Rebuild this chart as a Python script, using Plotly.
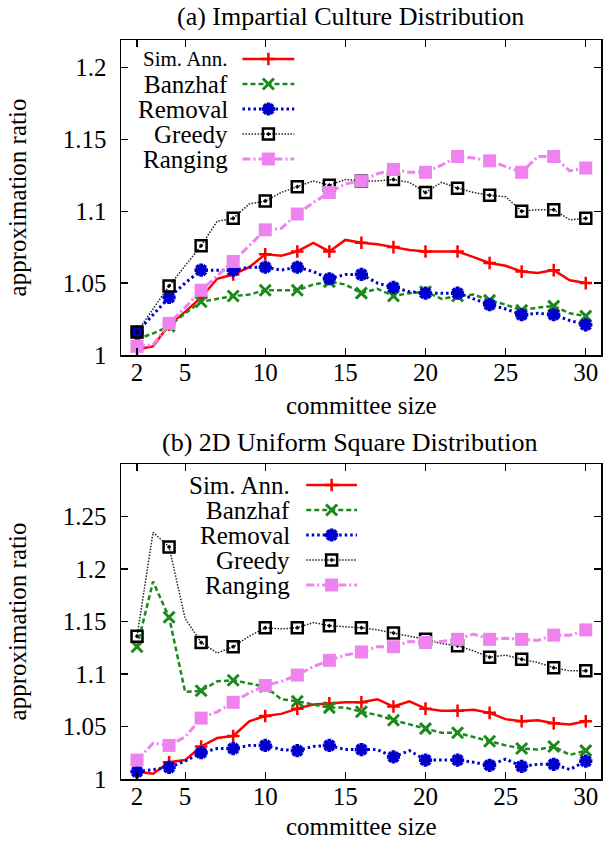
import plotly.graph_objects as go

# ---------------- data ----------------
committee_size = [2, 3, 4, 5, 6, 7, 8, 9, 10, 11, 12, 13, 14, 15, 16,
                  17, 18, 19, 20, 21, 22, 23, 24, 25, 26, 27, 28, 29, 30]

# (a) Impartial Culture
ic_sim_ann = [1.004, 1.006, 1.021, 1.030, 1.040, 1.053, 1.056, 1.061, 1.070, 1.069, 1.072, 1.078, 1.072, 1.080, 1.078,
              1.077, 1.075, 1.073, 1.072, 1.072, 1.072, 1.068, 1.064, 1.062, 1.058, 1.057, 1.059, 1.052, 1.050]
ic_banzhaf = [1.011, 1.015, 1.020, 1.029, 1.037, 1.039, 1.041, 1.042, 1.045, 1.045, 1.045, 1.049, 1.051, 1.049, 1.043,
              1.046, 1.041, 1.043, 1.044, 1.039, 1.041, 1.042, 1.038, 1.035, 1.031, 1.033, 1.034, 1.029, 1.027]
ic_removal = [1.016, 1.028, 1.040, 1.050, 1.059, 1.059, 1.059, 1.061, 1.061, 1.059, 1.061, 1.058, 1.053, 1.056, 1.056,
              1.050, 1.047, 1.044, 1.043, 1.043, 1.043, 1.039, 1.035, 1.032, 1.028, 1.029, 1.028, 1.024, 1.021]
ic_greedy = [1.016, 1.032, 1.048, 1.062, 1.076, 1.093, 1.095, 1.105, 1.107, 1.113, 1.117, 1.121, 1.118, 1.122, 1.121,
             1.121, 1.122, 1.120, 1.113, 1.120, 1.116, 1.113, 1.111, 1.110, 1.100, 1.101, 1.101, 1.094, 1.095]
ic_ranging = [1.006, 1.007, 1.022, 1.033, 1.045, 1.055, 1.065, 1.076, 1.087, 1.088, 1.098, 1.106, 1.113, 1.119, 1.121,
              1.126, 1.129, 1.127, 1.127, 1.132, 1.138, 1.137, 1.135, 1.131, 1.127, 1.138, 1.138, 1.128, 1.130]

# (b) 2D Uniform Square
sq_sim_ann = [1.007, 1.005, 1.016, 1.018, 1.031, 1.039, 1.041, 1.055, 1.060, 1.062, 1.067, 1.071, 1.072, 1.073, 1.073,
              1.076, 1.069, 1.074, 1.067, 1.065, 1.065, 1.066, 1.063, 1.057, 1.055, 1.056, 1.053, 1.052, 1.055]
sq_banzhaf = [1.126, 1.188, 1.154, 1.083, 1.084, 1.093, 1.094, 1.091, 1.088, 1.076, 1.074, 1.071, 1.068, 1.068, 1.064,
              1.061, 1.056, 1.052, 1.048, 1.044, 1.044, 1.040, 1.036, 1.032, 1.029, 1.028, 1.031, 1.023, 1.027]
sq_removal = [1.007, 1.009, 1.011, 1.017, 1.025, 1.029, 1.029, 1.032, 1.032, 1.028, 1.027, 1.031, 1.032, 1.028, 1.028,
              1.028, 1.021, 1.027, 1.018, 1.018, 1.018, 1.016, 1.013, 1.019, 1.012, 1.014, 1.014, 1.009, 1.017]
sq_greedy = [1.136, 1.235, 1.221, 1.153, 1.130, 1.120, 1.126, 1.136, 1.144, 1.143, 1.144, 1.149, 1.146, 1.145, 1.144,
             1.142, 1.139, 1.136, 1.133, 1.129, 1.127, 1.122, 1.116, 1.118, 1.114, 1.111, 1.106, 1.103, 1.103]
sq_ranging = [1.018, 1.034, 1.032, 1.040, 1.058, 1.064, 1.073, 1.082, 1.089, 1.093, 1.099, 1.107, 1.113, 1.118, 1.121,
              1.126, 1.126, 1.131, 1.130, 1.131, 1.133, 1.138, 1.133, 1.134, 1.133, 1.132, 1.137, 1.137, 1.142]

series_names = ["Sim. Ann.", "Banzhaf", "Removal", "Greedy", "Ranging"]
x_tick_vals = [2, 5, 10, 15, 20, 25, 30]
top_y_ticks = [1, 1.05, 1.1, 1.15, 1.2]
top_y_text = ["1", "1.05", "1.1", "1.15", "1.2"]
bot_y_ticks = [1, 1.05, 1.1, 1.15, 1.2, 1.25]
bot_y_text = ["1", "1.05", "1.1", "1.15", "1.2", "1.25"]

# ---------------- styles ----------------
FONT = "Liberation Serif"
FS = 25
styles = {
    "Sim. Ann.": dict(line=dict(color="#ff0000", width=2.5, dash="solid"),
                      marker=dict(symbol="cross-thin", size=9, color="#ff0000",
                                  line=dict(color="#ff0000", width=2.5))),
    "Banzhaf": dict(line=dict(color="#1a8a1a", width=2.5, dash="5px,3px"),
                    marker=dict(symbol="x-thin", size=11, color="#1a8a1a",
                                line=dict(color="#1a8a1a", width=3))),
    "Removal": dict(line=dict(color="#0000cc", width=3, dash="2.5px,3px"),
                    marker=dict(symbol="asterisk", size=11, color="#0000cc",
                                line=dict(color="#0000cc", width=3.8))),
    "Greedy": dict(line=dict(color="#222222", width=1.5, dash="1.5px,1.5px"),
                   marker=dict(symbol="square-open-dot", size=11, color="#000000",
                               line=dict(color="#000000", width=2.5))),
    "Ranging": dict(line=dict(color="#ee82ee", width=3, dash="8px,3px,2px,3px"),
                    marker=dict(symbol="square", size=13, color="#ee82ee",
                                line=dict(color="#ee82ee", width=0))),
}

W, H = 603, 842
L, R, T, B = 121, 0, 40, 63
PW = W - L - R
PH = H - T - B
TOP_PIX = (40, 355)
BOT_PIX = (464, 779)
X_RANGE = [1, 30.95]


def fx(xp):
    return (xp - L) / PW


def fy(yp):
    return (H - B - yp) / PH


fig = go.Figure()

panels = [
    ("x", "y", [ic_sim_ann, ic_banzhaf, ic_removal, ic_greedy, ic_ranging]),
    ("x2", "y2", [sq_sim_ann, sq_banzhaf, sq_removal, sq_greedy, sq_ranging]),
]
marker_opacity = [1 if c % 2 == 0 else 0 for c in committee_size]
for xa, ya, data in panels:
    for name, vals in zip(series_names, data):
        st = styles[name]
        mk = dict(st["marker"])
        mk["opacity"] = marker_opacity
        fig.add_trace(go.Scatter(x=committee_size, y=vals, xaxis=xa, yaxis=ya,
                                 mode="lines+markers", name=name,
                                 line=st["line"], marker=mk, showlegend=False,
                                 hoverinfo="skip"))

# ---------------- custom legends (text left of sample) ----------------
legend_cfg = [
    ("x3", "y3", 230, 243, 295, [59, 84, 109, 134, 159], [21, FS, FS, FS, FS]),
    ("x4", "y4", 293, 307, 358, [485, 510, 535, 560, 585], [FS, FS, FS, FS, FS]),
]
annotations = []
for xa, ya, tx, x0, x1, rows, fss in legend_cfg:
    for name, yr, fsz in zip(series_names, rows, fss):
        st = styles[name]
        mk = dict(st["marker"])
        mk["opacity"] = [0, 1, 0]
        fig.add_trace(go.Scatter(x=[x0, (x0 + x1) / 2, x1], y=[yr, yr, yr], xaxis=xa, yaxis=ya,
                                 mode="lines+markers", line=st["line"], marker=mk,
                                 showlegend=False, hoverinfo="skip"))
        annotations.append(dict(xref=xa, yref=ya, x=tx, y=yr, text=name, showarrow=False,
                                xanchor="right", yanchor="middle",
                                font=dict(family=FONT, size=fsz, color="black")))

# titles
annotations += [
    dict(xref="paper", yref="paper", x=fx(351), y=fy(16), text="(a) Impartial Culture Distribution",
         showarrow=False, xanchor="center", yanchor="middle", font=dict(family=FONT, size=26, color="black")),
    dict(xref="paper", yref="paper", x=fx(351), y=fy(442), text="(b) 2D Uniform Square Distribution",
         showarrow=False, xanchor="center", yanchor="middle", font=dict(family=FONT, size=26, color="black")),
    dict(xref="paper", yref="paper", x=fx(362), y=fy(405), text="committee size",
         showarrow=False, xanchor="center", yanchor="middle", font=dict(family=FONT, size=FS, color="black")),
    dict(xref="paper", yref="paper", x=fx(362), y=fy(826), text="committee size",
         showarrow=False, xanchor="center", yanchor="middle", font=dict(family=FONT, size=FS, color="black")),
    dict(xref="paper", yref="paper", x=fx(17), y=fy(197), text="approximation ratio", textangle=-90,
         showarrow=False, xanchor="center", yanchor="middle", font=dict(family=FONT, size=FS, color="black")),
    dict(xref="paper", yref="paper", x=fx(17), y=fy(621), text="approximation ratio", textangle=-90,
         showarrow=False, xanchor="center", yanchor="middle", font=dict(family=FONT, size=FS, color="black")),
]

axis_common = dict(showline=True, linecolor="black", linewidth=1.5, mirror="ticks",
                   ticks="inside", ticklen=7, tickwidth=1.2, tickcolor="black",
                   showgrid=False, zeroline=False, fixedrange=True,
                   ticklabeloverflow="allow",
                   tickfont=dict(family=FONT, size=FS, color="black"))

top_dom = [fy(TOP_PIX[1]), fy(TOP_PIX[0])]
bot_dom = [fy(BOT_PIX[1]), fy(BOT_PIX[0])]

fig.update_layout(
    width=W, height=H,
    margin=dict(l=L, r=R, t=T, b=B),
    paper_bgcolor="white", plot_bgcolor="rgba(0,0,0,0)",
    showlegend=False,
    font=dict(family=FONT, size=FS, color="black"),
    xaxis=dict(axis_common, domain=[0, 1], range=X_RANGE, anchor="y",
               tickvals=x_tick_vals, ticklabelstandoff=-6),
    yaxis=dict(axis_common, domain=top_dom, range=[1, 1.219], anchor="x",
               tickvals=top_y_ticks, ticktext=top_y_text, ticklabelstandoff=8),
    xaxis2=dict(axis_common, domain=[0, 1], range=X_RANGE, anchor="y2",
                tickvals=x_tick_vals, ticklabelstandoff=-6),
    yaxis2=dict(axis_common, domain=bot_dom, range=[1, 1.3], anchor="x2",
                tickvals=bot_y_ticks, ticktext=bot_y_text, ticklabelstandoff=8),
    xaxis3=dict(domain=[0, 1], range=[L, W - R], visible=False, anchor="y3", fixedrange=True),
    yaxis3=dict(domain=top_dom, range=[TOP_PIX[1], TOP_PIX[0]], visible=False, anchor="x3", fixedrange=True),
    xaxis4=dict(domain=[0, 1], range=[L, W - R], visible=False, anchor="y4", fixedrange=True),
    yaxis4=dict(domain=bot_dom, range=[BOT_PIX[1], BOT_PIX[0]], visible=False, anchor="x4", fixedrange=True),
    annotations=annotations,
)

fig.write_html("out.html", config={"displayModeBar": False, "staticPlot": True},
               post_script="document.body.style.margin='0px';document.body.style.overflow='hidden';")
